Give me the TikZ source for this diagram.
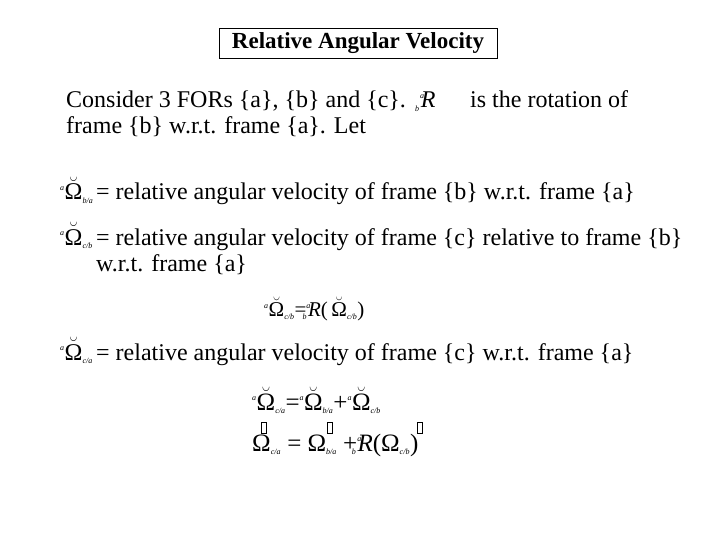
\documentclass[tikz,border=0pt]{standalone}
\usepackage{fontspec}
\setmainfont{Liberation Serif}
\newcommand\Omv[2]{\textsuperscript{\itshape\footnotesize #1}$\breve{\hbox{Ω}}$\textsubscript{\itshape\footnotesize #2}}
\newcommand\Omp[1]{Ω\textsubscript{\itshape\footnotesize #1}}
\newcommand\Rab{\textsuperscript{\itshape\footnotesize a}\kern-0.4em\textsubscript{\itshape\footnotesize b}\kern0.05em\textit{R}}
\begin{document}
\begin{tikzpicture}[x=1pt,y=-1pt,
  body/.style={anchor=base west,inner sep=0pt,font=\fontsize{24}{29}\selectfont},
  eq/.style={anchor=base west,inner sep=0pt,font=\fontsize{25}{30}\selectfont},
  gap/.style={draw,line width=0.6pt,minimum width=5pt,minimum height=11pt,inner sep=0pt}]
\useasboundingbox (0,0) rectangle (720,540);
\node[draw,line width=0.8pt,minimum width=278pt,minimum height=30pt,inner sep=0pt,font=\bfseries\fontsize{23}{28}\selectfont] (title) at (358,43) {Relative Angular Velocity};
\node[body] (l1) at (66,108) {Consider 3 FORs \{a\}, \{b\} and \{c\}.};
\node[body] (r1) at (420,108) {\Rab};
\node[body] (l1b) at (470,108) {is the rotation of};
\node[body] (l2) at (66,134) {frame \{b\} w.r.t. frame \{a\}. Let};
\node[body] (w1) at (60,200) {\makebox[36pt][l]{\Omv{a}{b/a}}= relative angular velocity of frame \{b\} w.r.t. frame \{a\}};
\node[body] (w2) at (60,245) {\makebox[36pt][l]{\Omv{a}{c/b}}= relative angular velocity of frame \{c\} relative to frame \{b\}};
\node[body] (w2b) at (96,271) {w.r.t. frame \{a\}};
\node[eq,font=\fontsize{21}{25}\selectfont] (e1) at (264,316) {\Omv{a}{c/b}=\Rab(\,$\breve{\hbox{Ω}}$\textsubscript{\itshape\footnotesize c/b})};
\node[body] (w3) at (60,360) {\makebox[36pt][l]{\Omv{a}{c/a}}= relative angular velocity of frame \{c\} w.r.t. frame \{a\}};
\node[eq] (e2) at (252,410) {\Omv{a}{c/a}=\Omv{a}{b/a}+\Omv{a}{c/b}};
\node[eq] (e3) at (252,451) {\Omp{c/a} = \Omp{b/a} +\Rab(\Omp{c/b})};
\node[gap] (g1) at (264,428) {};
\node[gap] (g2) at (330,428) {};
\node[gap] (g3) at (420,428) {};
\end{tikzpicture}
\end{document}
